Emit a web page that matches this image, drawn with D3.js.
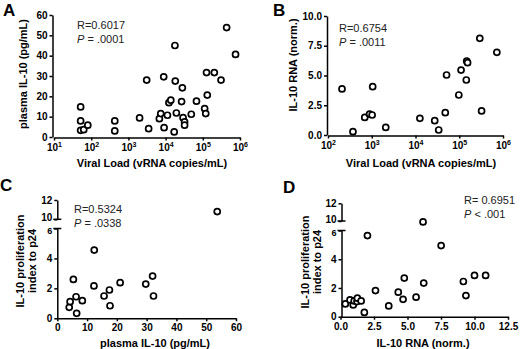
<!DOCTYPE html>
<html>
<head>
<meta charset="utf-8">
<script src="https://cdn.jsdelivr.net/npm/d3@7"></script>
<style>
  body { margin: 0; background: #fff; }
  svg { font-family: "Liberation Sans", Arial, sans-serif; }
  .axis path, .axis line { stroke: #000; stroke-width: 1.5; }
  .axis text { font-size: 10px; font-weight: bold; fill: #000; font-family: "Liberation Sans", Arial, sans-serif; }
  .title { font-size: 11px; font-weight: bold; fill: #000; }
  .stat { font-size: 11px; fill: #222; }
  .dot { fill: #fff; stroke: #000; stroke-width: 1.7; }
  .letter { font-size: 17px; font-weight: bold; fill: #000; }
  .serif { stroke: #000; stroke-width: 1.5; }
</style>
</head>
<body>
<div id="wrapper"></div>
<script>
// PANEL A  viral load vs plasma IL-10
const viralLoadA = [52, 52, 52, 63, 81, 430, 430, 2000, 3500, 3100, 6800, 7400, 8900, 9100, 11200, 12300,
  13800, 17000, 17800, 18200, 19500, 26900, 28200, 29500, 32400, 32400, 49000, 67600, 112000, 120000,
  132000, 126000, 204000, 309000, 437000, 759000]
const plasmaA = [14.8, 7.9, 3.3, 3.6, 5.8, 7.9, 3.0, 9.4, 4.1, 28, 9.0, 11.5, 29.6, 4.6, 10.7, 16.9,
  18.1, 2.5, 45, 27.5, 11.8, 17.4, 24.2, 9.5, 7.4, 5.8, 11.2, 17.6, 14, 11.5,
  20.6, 31.7, 31.7, 28, 53.8, 40.6]

// PANEL B  viral load vs IL-10 RNA
const viralLoadB = [209, 372, 692, 891, 1020, 1050, 2090, 12600, 27500, 33900, 47900, 51300, 97700,
  110000, 145000, 148000, 155000, 295000, 324000, 724000]
const rnaB = [3.87, 0.28, 1.48, 1.76, 1.68, 4.06, 0.64, 1.4, 1.2, 0.42, 1.88, 5.04, 3.36,
  5.46, 4.62, 6.22, 6.08, 8.12, 2.02, 6.95]

// PANEL C  plasma IL-10 vs proliferation index
const plasmaC = [4.0, 4.3, 5.4, 6.3, 6.5, 8.4, 12.3, 12.4, 15.7, 17.5, 17.7, 21.1, 29.7, 32.0, 32.3, 53.7]
const prolifC = [0.73, 1.11, 2.6, 1.44, 0.33, 1.18, 2.16, 4.56, 1.49, 1.89, 0.84, 2.38, 2.29, 2.82, 1.49, 10.8]

// PANEL D  IL-10 RNA vs proliferation index
const rnaD = [0.36, 0.71, 0.95, 1.02, 1.23, 1.26, 1.54, 1.78, 2.01, 2.61, 3.60, 4.31, 4.67, 4.76,
  5.64, 6.21, 6.16, 7.51, 9.17, 9.36, 10.0, 10.83]
const prolifD = [0.89, 1.17, 0.82, 1.10, 1.05, 1.29, 1.10, 0.30, 5.65, 1.82, 0.75, 1.71, 1.21, 2.69,
  1.36, 2.34, 9.9, 4.95, 2.45, 1.47, 2.87, 2.87]

// tick labels
const logTicksA = [1e1, 1e2, 1e3, 1e4, 1e5, 1e6]
const logTicksB = [1e2, 1e3, 1e4, 1e5, 1e6]
const yTicksA = [0, 10, 20, 30, 40, 50, 60]
const yTicksB = [0, 2.5, 5, 7.5, 10]
const xTicksC = [0, 10, 20, 30, 40, 50, 60]
const xTicksD = [0, 2.5, 5, 7.5, 10, 12.5]
const lowTicks = [0, 2, 4, 6]
const highTicks = [10, 12]

const svg = d3.select('#wrapper')
  .append('svg')
  .attr('width', 520)
  .attr('height', 349)

// superscript labels for log axes
function powerLabels(axisG) {
  axisG.selectAll('.tick text').each(function (d) {
    const t = d3.select(this).text('')
    t.append('tspan').text('10')
    t.append('tspan').attr('dy', '-0.45em').style('font-size', '7px').text(Math.round(Math.log10(d)))
  })
}

function dots(g, xs, ys, xScale, yFn) {
  g.selectAll(null)
    .data(xs.map((x, i) => [x, ys[i]]))
    .join('circle')
    .attr('class', 'dot')
    .attr('cx', d => xScale(d[0]))
    .attr('cy', d => yFn(d[1]))
    .attr('r', 3)
}

function stat(x, y1, y2, rText, pText) {
  svg.append('text').attr('class', 'stat').attr('x', x).attr('y', y1).text(rText)
  const p = svg.append('text').attr('class', 'stat').attr('x', x).attr('y', y2)
  p.append('tspan').style('font-style', 'italic').text('P')
  p.append('tspan').text(pText)
}

function yTitle(x, y, lines) {
  const t = svg.append('text').attr('class', 'title')
    .attr('transform', `translate(${x},${y}) rotate(-90)`)
    .attr('text-anchor', 'middle')
  lines.forEach((l, i) => {
    t.append('tspan').attr('x', 0).attr('dy', i === 0 ? 0 : '1.1em').text(l)
  })
}

function xTitle(x, y, text) {
  svg.append('text').attr('class', 'title')
    .attr('x', x).attr('y', y)
    .attr('text-anchor', 'middle')
    .text(text)
}

function letter(x, y, s) {
  svg.append('text').attr('class', 'letter').attr('x', x).attr('y', y).text(s)
}

// ---------- A ----------
const xA = d3.scaleLog().domain([10, 1e6]).range([54, 240])
const yA = d3.scaleLinear().domain([0, 60]).range([137, 15])

svg.append('g').attr('class', 'axis')
  .attr('transform', 'translate(52.5,0)')
  .call(d3.axisLeft(yA).tickValues(yTicksA).tickSize(3).tickSizeOuter(0).tickPadding(2))
svg.append('g').attr('class', 'axis')
  .attr('transform', 'translate(0,137.5)')
  .call(d3.axisBottom(xA).tickValues(logTicksA).tickSize(3).tickSizeOuter(0).tickPadding(3))
  .call(powerLabels)

dots(svg.append('g'), viralLoadA, plasmaA, xA, yA)
stat(77, 29, 43, 'R=0.6017', ' = .0001')
yTitle(27, 74, ['plasma IL-10 (pg/mL)'])
xTitle(152, 167, 'Viral Load (vRNA copies/mL)')
letter(3, 16, 'A')

// ---------- B ----------
const xB = d3.scaleLog().domain([100, 1e6]).range([328, 503])
const yB = d3.scaleLinear().domain([0, 10]).range([135, 16])

svg.append('g').attr('class', 'axis')
  .attr('transform', 'translate(327,0)')
  .call(d3.axisLeft(yB).tickValues(yTicksB).tickFormat(d3.format('.1f')).tickSize(3).tickSizeOuter(0).tickPadding(2))
svg.append('g').attr('class', 'axis')
  .attr('transform', 'translate(0,135.5)')
  .call(d3.axisBottom(xB).tickValues(logTicksB).tickSize(3).tickSizeOuter(0).tickPadding(3))
  .call(powerLabels)

dots(svg.append('g'), viralLoadB, rnaB, xB, yB)
stat(339, 32, 46, 'R=0.6754', ' = .0011')
yTitle(297, 65, ['IL-10 RNA  (norm.)'])
xTitle(421, 167, 'Viral Load (vRNA copies/mL)')
letter(273, 16, 'B')

// ---------- broken y axis helper ----------
function brokenAxis(x, low, high) {
  svg.append('g').attr('class', 'axis')
    .attr('transform', `translate(${x},0)`)
    .call(d3.axisLeft(low).tickValues(lowTicks).tickFormat(d3.format('d')).tickSize(3).tickSizeOuter(0).tickPadding(2))
    .selectAll('.tick text').filter(d => d === 6).attr('dy', '0.5em').style('font-size', '9px')
  svg.append('g').attr('class', 'axis')
    .attr('transform', `translate(${x},0)`)
    .call(d3.axisLeft(high).tickValues(highTicks).tickFormat(d3.format('d')).tickSize(3).tickSizeOuter(0).tickPadding(2))
    .selectAll('.tick text').filter(d => d === 10).attr('dy', '0.1em')
  // serifs at the break
  svg.append('line').attr('class', 'serif')
    .attr('x1', x - 4).attr('x2', x + 4).attr('y1', low(6)).attr('y2', low(6))
  svg.append('line').attr('class', 'serif')
    .attr('x1', x - 4).attr('x2', x + 4).attr('y1', high(10)).attr('y2', high(10))
}

function splitY(low, high) {
  return v => v > 8 ? high(v) : low(v)
}

// ---------- C ----------
const xC = d3.scaleLinear().domain([0, 60]).range([57.3, 236])
const yCLow = d3.scaleLinear().domain([0, 6]).range([318.3, 228.5])
const yCHigh = d3.scaleLinear().domain([10, 12]).range([219.3, 200])

brokenAxis(57.3, yCLow, yCHigh)
svg.append('g').attr('class', 'axis')
  .attr('transform', 'translate(0,318.3)')
  .call(d3.axisBottom(xC).tickValues(xTicksC).tickSize(3).tickSizeOuter(0).tickPadding(3))

dots(svg.append('g'), plasmaC, prolifC, xC, splitY(yCLow, yCHigh))
stat(74, 213, 227, 'R=0.5324', ' = .0338')
yTitle(24, 261, ['IL-10 proliferation', 'index to p24'])
xTitle(155, 347, 'plasma IL-10 (pg/mL)')
letter(0, 191, 'C')

// ---------- D ----------
const xD = d3.scaleLinear().domain([0, 12.5]).range([340.5, 508])
const yDLow = d3.scaleLinear().domain([0, 6]).range([316.7, 230.5])
const yDHigh = d3.scaleLinear().domain([10, 12]).range([221, 203.3])

brokenAxis(341.5, yDLow, yDHigh)
svg.append('g').attr('class', 'axis')
  .attr('transform', 'translate(0,316.7)')
  .call(d3.axisBottom(xD).tickValues(xTicksD).tickFormat(d3.format('.1f')).tickSize(3).tickSizeOuter(0).tickPadding(3))

dots(svg.append('g'), rnaD, prolifD, xD, splitY(yDLow, yDHigh))
stat(464, 204, 218, 'R= 0.6951', ' < .001')
yTitle(309, 262, ['IL-10 proliferation', 'index to p24'])
xTitle(423, 347, 'IL-10 RNA  (norm.)')
letter(283, 193, 'D')
</script>
</body>
</html>
